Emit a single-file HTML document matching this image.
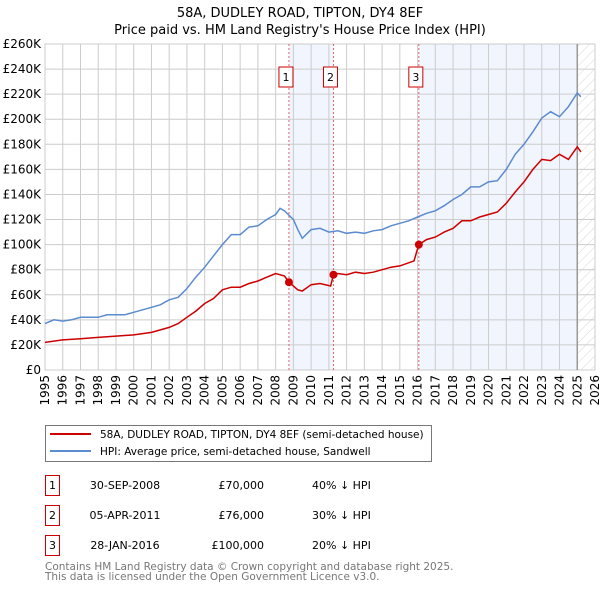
<!DOCTYPE html>
<html><head><meta charset="utf-8"><style>
body{margin:0;background:#fff;font-family:"Liberation Sans","DejaVu Sans",sans-serif;}
svg text{font-family:"DejaVu Sans","Liberation Sans",sans-serif;}
</style></head><body>
<svg id="chart" width="600" height="590" xmlns="http://www.w3.org/2000/svg">
<defs><pattern id="hatch" width="7" height="7" patternUnits="userSpaceOnUse" patternTransform="rotate(45)"><line x1="0" y1="0" x2="0" y2="7" stroke="#d8d8d8" stroke-width="1"/></pattern></defs>
<text x="300" y="17" text-anchor="middle" font-size="13">58A, DUDLEY ROAD, TIPTON, DY4 8EF</text>
<text x="300" y="34" text-anchor="middle" font-size="13">Price paid vs. HM Land Registry's House Price Index (HPI)</text>
<g id="plot"></g>
<g>
<rect x="45.5" y="425.5" width="386" height="36" fill="#fff" stroke="#777"/>
<line x1="50" y1="434" x2="91" y2="434" stroke="#cc0000" stroke-width="2"/>
<text x="100" y="438" font-size="10.5">58A, DUDLEY ROAD, TIPTON, DY4 8EF (semi-detached house)</text>
<line x1="50" y1="451" x2="91" y2="451" stroke="#5b8bd0" stroke-width="2"/>
<text x="100" y="455" font-size="10.5">HPI: Average price, semi-detached house, Sandwell</text>
</g>
<g id="table" font-size="11"></g>
<text x="45" y="570" font-size="10.5" fill="#777">Contains HM Land Registry data © Crown copyright and database right 2025.</text>
<text x="45" y="580" font-size="10.5" fill="#777">This data is licensed under the Open Government Licence v3.0.</text>
</svg>
<script>
const yTicks=[0,20,40,60,80,100,120,140,160,180,200,220,240,260];
const yearTicks=[1995,1996,1997,1998,1999,2000,2001,2002,2003,2004,2005,2006,2007,2008,2009,2010,2011,2012,2013,2014,2015,2016,2017,2018,2019,2020,2021,2022,2023,2024,2025,2026];
const hpiX=[1995,1995.5,1996,1996.5,1997,1997.5,1998,1998.5,1999,1999.5,2000,2000.5,2001,2001.5,2002,2002.5,2003,2003.5,2004,2004.5,2005,2005.5,2006,2006.5,2007,2007.5,2008,2008.25,2008.5,2009,2009.25,2009.5,2010,2010.5,2011,2011.5,2012,2012.5,2013,2013.5,2014,2014.5,2015,2015.5,2016,2016.5,2017,2017.5,2018,2018.5,2019,2019.5,2020,2020.5,2021,2021.5,2022,2022.5,2023,2023.5,2024,2024.5,2025,2025.2];
const hpiY=[37,40,39,40,42,42,42,44,44,44,46,48,50,52,56,58,65,74,82,91,100,108,108,114,115,120,124,129,127,120,112,105,112,113,110,111,109,110,109,111,112,115,117,119,122,125,127,131,136,140,146,146,150,151,160,172,180,190,201,206,202,210,221,218];
const ppX=[1995,1996,1997,1998,1999,2000,2001,2002,2002.5,2003,2003.5,2004,2004.5,2005,2005.5,2006,2006.5,2007,2007.5,2008,2008.5,2008.75,2009.25,2009.5,2010,2010.5,2011.1,2011.26,2011.5,2012,2012.5,2013,2013.5,2014,2014.5,2015,2015.8,2016.07,2016.5,2017,2017.5,2018,2018.5,2019,2019.5,2020,2020.5,2021,2021.5,2022,2022.5,2023,2023.5,2024,2024.5,2025,2025.2];
const ppY=[22,24,25,26,27,28,30,34,37,42,47,53,57,64,66,66,69,71,74,77,75,70,64,63,68,69,67,76,77,76,78,77,78,80,82,83,87,100,104,106,110,113,119,119,122,124,126,133,142,150,160,168,167,172,168,178,174];
const saleLabels=["1","2","3"];
const saleX=[2008.75,2011.26,2016.07];
const saleY=[70,76,100];
const saleDates=["30-SEP-2008","05-APR-2011","28-JAN-2016"];
const salePrices=["£70,000","£76,000","£100,000"];
const saleDiff=["40% ↓ HPI","30% ↓ HPI","20% ↓ HPI"];
const dataEndYear=2025.0;

const L=45,R=595,T=44,B=370;
const sx=y=>L+(y-1995)/(2026-1995)*(R-L);
const sy=v=>B-v/260*(B-T);
const NS="http://www.w3.org/2000/svg";
const plot=document.getElementById('plot');
function mk(tag,attrs,parent){const e=document.createElementNS(NS,tag);for(const k in attrs)e.setAttribute(k,attrs[k]);(parent||plot).appendChild(e);return e;}
for(let i=0;i<saleX.length;i++){
  const x0=sx(saleX[i]);const x1=i===0?sx(saleX[1]):(i===1?null:sx(dataEndYear));
  if(x1!==null){const r=mk('rect',{x:x0,y:T,width:x1-x0,height:B-T,fill:'#f1f5fd'});
  
  }
}
const hr=mk('rect',{x:sx(dataEndYear),y:T,width:R-sx(dataEndYear),height:B-T,fill:'url(#hatch)'});


yTicks.forEach(v=>{
  mk('line',{x1:L,x2:R,y1:sy(v),y2:sy(v),stroke:'#ccc','stroke-width':1});
  const t=mk('text',{x:L-4,y:sy(v)+4,'text-anchor':'end','font-size':12});t.textContent='£'+(v===0?'0':v+'K');
  
  
});
yearTicks.forEach(y=>{
  mk('line',{x1:sx(y),x2:sx(y),y1:T,y2:B,stroke:'#ccc','stroke-width':1});
  const t=mk('text',{x:0,y:0,'text-anchor':'end','font-size':12,transform:`translate(${sx(y)+4},${B+5}) rotate(-90)`});t.textContent=y;
  
  
});
mk('rect',{x:L,y:T,width:R-L,height:B-T,fill:'none',stroke:'#ccc'});
mk('line',{x1:sx(dataEndYear),x2:sx(dataEndYear),y1:T,y2:B,stroke:'#999','stroke-width':1.5});
saleX.forEach((x,i)=>{
  mk('line',{x1:sx(x),x2:sx(x),y1:T,y2:B,stroke:'#e06666','stroke-width':1,'stroke-dasharray':'2,2'});
  const g=mk('g',{});
  
  
  mk('rect',{x:sx(x)-10,y:67,width:14,height:20,fill:'#fff',stroke:'#cc0000'},g);
  const t=mk('text',{x:sx(x)-3,y:81,'text-anchor':'middle','font-size':11},g);t.textContent=saleLabels[i];
});
function path(xs,ys){return xs.map((x,i)=>(i?'L':'M')+sx(x).toFixed(1)+','+sy(ys[i]).toFixed(1)).join('');}
const hp=mk('path',{d:path(hpiX,hpiY),fill:'none',stroke:'#5b8bd0','stroke-width':1.5});


const pp=mk('path',{d:path(ppX,ppY),fill:'none',stroke:'#cc0000','stroke-width':1.5});


saleX.forEach((x,i)=>{const c=mk('circle',{cx:sx(x),cy:sy(saleY[i]),r:4,fill:'#cc0000'});
  
  });
const tb=document.getElementById('table');
saleLabels.forEach((l,i)=>{
  const y=475+i*30;
  const g=mk('g',{},tb);
  
  
  mk('rect',{x:45.5,y:y+0.5,width:14,height:20,fill:'#fff',stroke:'#cc0000'},g);
  let t=mk('text',{x:52.5,y:y+14,'text-anchor':'middle'},g);t.textContent=l;
  t=mk('text',{x:125,y:y+14,'text-anchor':'middle'},g);t.textContent=saleDates[i];
  t=mk('text',{x:264,y:y+14,'text-anchor':'end'},g);t.textContent=salePrices[i];
  t=mk('text',{x:312,y:y+14},g);t.textContent=saleDiff[i];
});
</script>
</body></html>
